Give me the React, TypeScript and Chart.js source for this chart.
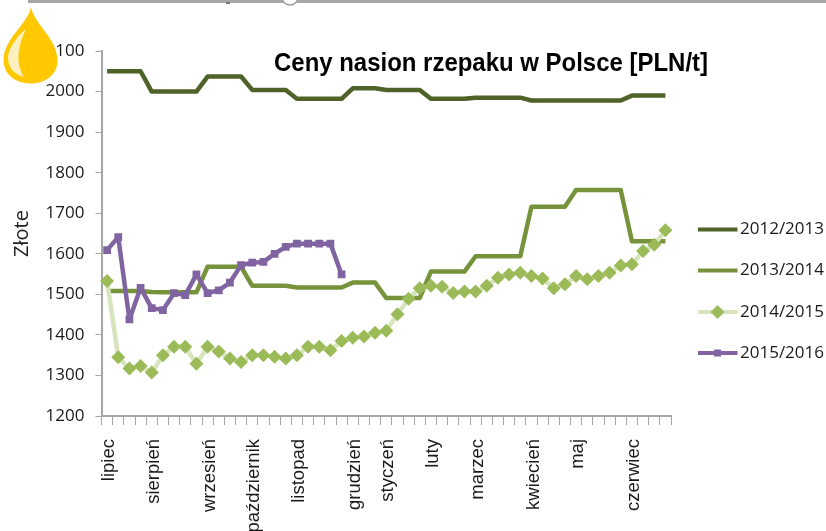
import React, { useEffect, useRef } from "react";
import { Chart, registerables } from "chart.js";

Chart.register(...registerables);

const monthTicks: Record<number, string> = {
  0: "lipiec", 4: "sierpień", 9: "wrzesień", 13: "październik", 17: "listopad", 22: "grudzień",
  25: "styczeń", 29: "luty", 33: "marzec", 38: "kwiecień", 42: "maj", 47: "czerwiec",
};
const weekCount = 51;
const categories: string[] = Array.from({ length: weekCount }, (_, i) => monthTicks[i] ?? "");

const title = "Ceny nasion rzepaku w Polsce [PLN/t]";
const yAxisTitle = "Złote";

const s2012 = [
  2050, 2050, 2050, 2050, 2000, 2000, 2000, 2000, 2000, 2037, 2037, 2037, 2037, 2004, 2004, 2004, 2004,
  1982, 1982, 1982, 1982, 1982, 2008, 2008, 2008, 2004, 2004, 2004, 2004, 1982, 1982, 1982, 1982,
  1985, 1985, 1985, 1985, 1985, 1978, 1978, 1978, 1978, 1978, 1978, 1978, 1978, 1978, 1990, 1990, 1990, 1990,
];
const s2013 = [
  1508, 1508, 1508, 1508, 1506, 1505, 1505, 1505, 1505, 1568, 1568, 1568, 1568, 1521, 1521, 1521, 1521,
  1517, 1517, 1517, 1517, 1517, 1529, 1529, 1529, 1491, 1491, 1491, 1491, 1556, 1556, 1556, 1556,
  1594, 1594, 1594, 1594, 1594, 1716, 1716, 1716, 1716, 1757, 1757, 1757, 1757, 1757, 1631, 1631, 1631, 1631,
];
const s2014 = [
  1533, 1345, 1317, 1323, 1307, 1350, 1371, 1371, 1329, 1371, 1359, 1342, 1333, 1350, 1350, 1346, 1342,
  1350, 1371, 1371, 1362, 1385, 1393, 1396, 1405, 1410, 1451, 1489, 1515, 1521, 1519, 1503, 1507,
  1507, 1521, 1541, 1549, 1553, 1545, 1539, 1515, 1525, 1545, 1537, 1545, 1553, 1571, 1574, 1607, 1622, 1658,
];
const s2015 = [
  1609, 1641, 1438, 1516, 1466, 1461, 1503, 1498, 1549, 1503, 1510, 1529, 1572, 1578, 1580, 1600, 1617,
  1625, 1625, 1625, 1625, 1549,
];

const seriesLabels = ["2012/2013", "2013/2014", "2014/2015", "2015/2016"];
const NUM_FONT = '"Open Sans", sans-serif';
const LAB_FONT = '"Liberation Sans", Arial, sans-serif';

const decoration = {
  id: "decoration",
  afterDraw(chart: any) {
    const c = chart.ctx as CanvasRenderingContext2D;
    c.save();
    // window edge strip at the top of the picture
    c.fillStyle = "#a6a6a6";
    c.fillRect(28, 0, 798, 3);
    c.fillStyle = "#777777";
    c.fillRect(226, 2, 4, 2);
    c.fillStyle = "#ffffff";
    c.beginPath();
    c.arc(290, -3, 8, 0, Math.PI * 2);
    c.fill();
    c.strokeStyle = "#a0a0a0";
    c.lineWidth = 1.5;
    c.stroke();

    // oil drop
    c.fillStyle = "#ffc800";
    c.beginPath();
    c.moveTo(31, 7);
    c.bezierCurveTo(34, 24, 57, 38, 57.5, 60);
    c.bezierCurveTo(58, 74, 46, 83.5, 31, 83.5);
    c.bezierCurveTo(15, 83.5, 3.5, 74, 3.5, 60);
    c.bezierCurveTo(4, 38, 28, 24, 31, 7);
    c.closePath();
    c.fill();
    c.fillStyle = "#fff0c0";
    c.beginPath();
    c.moveTo(26, 29);
    c.bezierCurveTo(15, 38, 8, 50, 8, 58);
    c.bezierCurveTo(8, 68, 14, 74, 24, 77);
    c.bezierCurveTo(20, 71, 18, 64, 18.5, 55);
    c.bezierCurveTo(19, 46, 22, 37, 26, 29);
    c.closePath();
    c.fill();

    // title
    c.fillStyle = "#000000";
    c.font = 'bold 25px "Liberation Sans", Arial, sans-serif';
    c.textAlign = "center";
    c.textBaseline = "middle";
    const w = c.measureText(title).width;
    c.save();
    c.translate(491, 64);
    c.scale(434 / w, 1);
    c.fillText(title, 0, 0);
    c.restore();

    // legend built from the datasets
    const rowY = [229.5, 270.5, 312, 353];
    chart.data.datasets.forEach((d: any, i: number) => {
      const y = rowY[i];
      c.strokeStyle = d.borderColor;
      c.lineWidth = 4;
      c.beginPath();
      c.moveTo(698, y);
      c.lineTo(737.5, y);
      c.stroke();
      if (d.pointRadius > 0) {
        c.fillStyle = d.pointBackgroundColor;
        if (d.pointStyle === "rectRot") {
          const r = 7;
          c.beginPath();
          c.moveTo(717.5 - r, y);
          c.lineTo(717.5, y - r);
          c.lineTo(717.5 + r, y);
          c.lineTo(717.5, y + r);
          c.closePath();
          c.fill();
        } else {
          c.fillRect(714, y - 3.5, 7, 7);
        }
      }
      c.fillStyle = "#1a1a1a";
      c.font = `17px ${NUM_FONT}`;
      c.textAlign = "left";
      c.textBaseline = "middle";
      c.fillText(d.label, 740, y);
    });
    c.restore();
  },
};

export default function App() {
  const ref = useRef<HTMLCanvasElement>(null);
  useEffect(() => {
    const chart = new Chart(ref.current!, {
      type: "line",
      data: {
        labels: categories,
        datasets: [
          { label: seriesLabels[0], data: s2012, borderColor: "#4f6228", backgroundColor: "#4f6228", borderWidth: 4.5, pointRadius: 0, order: 4 },
          { label: seriesLabels[1], data: s2013, borderColor: "#76933c", backgroundColor: "#76933c", borderWidth: 4.5, pointRadius: 0, order: 3 },
          { label: seriesLabels[2], data: s2014, borderColor: "#d7e4bd", pointBackgroundColor: "#9bbb59", pointBorderColor: "#9bbb59", pointStyle: "rectRot", pointRadius: 7, pointBorderWidth: 0, borderWidth: 4.5, order: 2 },
          { label: seriesLabels[3], data: s2015, borderColor: "#8064a2", pointBackgroundColor: "#8064a2", pointBorderColor: "#8064a2", pointStyle: "rect", pointRadius: 5.5, pointBorderWidth: 0, borderWidth: 4.5, order: 1 },
        ] as any,
      },
      options: {
        responsive: false,
        animation: false,
        layout: { padding: { left: 10, top: 51, right: 155, bottom: 0 } },
        plugins: { legend: { display: false }, title: { display: false }, tooltip: { enabled: false } },
        elements: { line: { tension: 0, borderCapStyle: "butt", borderJoinStyle: "round" } },
        scales: {
          x: {
            offset: true,
            afterFit(s: any) { s.height = 115; },
            grid: { offset: true, drawOnChartArea: false, tickLength: 9, tickColor: "#a6a6a6", tickWidth: 1 },
            border: { color: "#a6a6a6", width: 2 },
            ticks: {
              autoSkip: false, minRotation: 90, maxRotation: 90, padding: 14, labelOffset: 2, color: "#1a1a1a",
              font: { family: LAB_FONT, size: 18.5 },
            },
          },
          y: {
            min: 1200, max: 2100,
            afterFit(s: any) { s.width = 91.5; },
            title: { display: true, text: yAxisTitle, color: "#222222", padding: 0, font: { family: NUM_FONT, size: 20 } },
            grid: { drawOnChartArea: false, tickLength: 6, tickColor: "#a6a6a6", tickWidth: 1 },
            border: { color: "#a6a6a6", width: 2 },
            ticks: {
              stepSize: 100, padding: 11, color: "#1a1a1a", font: { family: NUM_FONT, size: 17 },
              callback: (v: any) => String(v),
            },
          },
        },
      } as any,
      plugins: [decoration],
    });
    return () => chart.destroy();
  }, []);
  return (
    <div style={{ position: "absolute", left: 0, top: 0, width: 826, height: 531, background: "#ffffff" }}>
      <canvas ref={ref} width={826} height={531} style={{ display: "block", filter: "blur(0.5px)" }} />
    </div>
  );
}
